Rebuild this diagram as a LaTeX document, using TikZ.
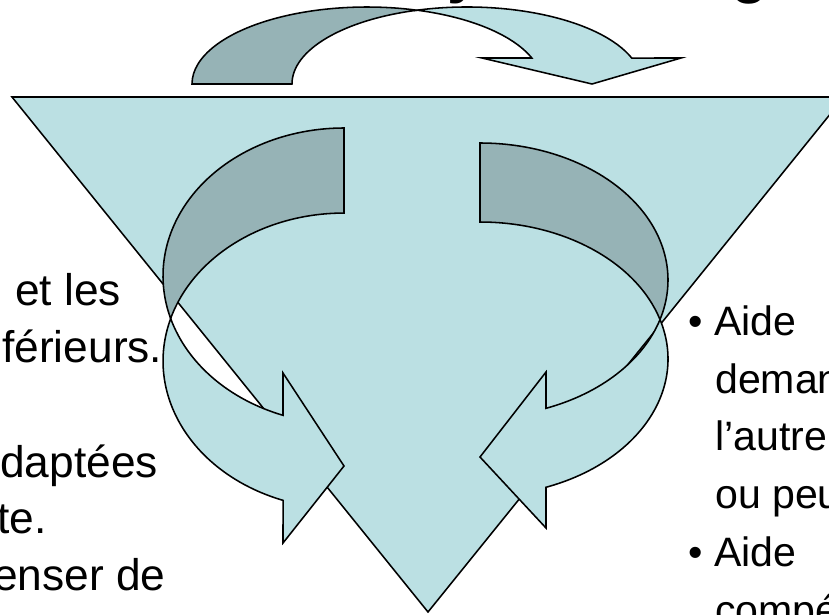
\documentclass[tikz,border=0pt]{standalone}
\usepackage{fontspec}
\setmainfont{Liberation Sans}
\usepackage{tikz}
\usetikzlibrary{positioning}

\definecolor{paleteal}{RGB}{187,224,227}
\definecolor{darkteal}{RGB}{150,179,182}

\begin{document}
\begin{tikzpicture}[x=0.025cm, y=-0.025cm,
  front/.style={draw=black, line width=1.1pt, fill=paleteal},
  back/.style={draw=black, line width=1.1pt, fill=darkteal},
  txt/.style={anchor=base west, inner sep=0pt, font=\fontsize{31.5}{37}\selectfont},
  txtr/.style={anchor=base west, inner sep=0pt, font=\fontsize{29.2}{35}\selectfont},
  ttl/.style={anchor=base west, inner sep=0pt, font=\fontsize{42.7}{50}\selectfont\bfseries},
]
\useasboundingbox (0,0) rectangle (829,614);
\clip (0,0) rectangle (829,614);

% Title (only the descenders show)
\node[ttl] (ttly) at (447,-9) {y};
\node[ttl] (ttlg) at (731,-9) {g};

% Top curved arrow
\draw[back] (192,84) arc[start angle=180, end angle=286.6, x radius=175, y radius=77]
  arc[start angle=253.4, end angle=180, x radius=175, y radius=77] -- cycle;
\draw[front] (417,10.2) arc[start angle=253.4, end angle=340.3, x radius=175, y radius=77]
  -- (681,58) -- (592,84) -- (482,58) -- (531.8,58)
  arc[start angle=340.3, end angle=286.6, x radius=175, y radius=77] -- cycle;

% Triangle
\draw[front] (12,97) -- (844,97) -- (428,612) -- cycle;

% Left curved arrow
\draw[back] (344,128) arc[start angle=270, end angle=163.3, x radius=181, y radius=148]
  arc[start angle=196.7, end angle=270, x radius=181, y radius=148] -- cycle;
\draw[front] (170.7,318.5) arc[start angle=196.7, end angle=109.7, x radius=181, y radius=148]
  -- (283,543) -- (344,466) -- (283,373) -- (283,415.3)
  arc[start angle=109.7, end angle=163.3, x radius=181, y radius=148] -- cycle;

% Right curved arrow
\draw[back] (480,143) arc[start angle=270, end angle=376.76, x radius=188, y radius=137]
  arc[start angle=343.24, end angle=270, x radius=188, y radius=137] -- cycle;
\draw[front] (660,319.5) arc[start angle=343.24, end angle=429.45, x radius=188, y radius=137]
  -- (546,528) -- (480,457) -- (546,372) -- (546,408.3)
  arc[start angle=69.45, end angle=16.76, x radius=188, y radius=137] -- cycle;

% Left text
\node[txt] (lt1) at (15,305) {et les};
\node[txt] (lt2) at (2,362) {férieurs.};
\node[txt] (lt3) at (0,477) {daptées};
\node[txt] (lt4) at (-3,533) {te.};
\node[txt] (lt5) at (-7,590) {enser de};

% Right text
\node[txtr] (rt1) at (688,335) {• Aide};
\node[txtr] (rt2) at (715,393) {deman};
\node[txtr] (rt3) at (715,450) {l’autre};
\node[txtr] (rt4) at (715,508) {ou peu};
\node[txtr] (rt5) at (688,566) {• Aide};
\node[txtr] (rt6) at (715,624) {compé};
\end{tikzpicture}
\end{document}
